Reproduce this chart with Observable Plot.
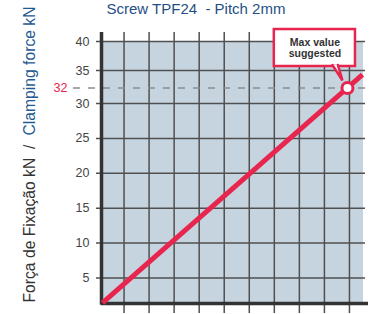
<!DOCTYPE html>
<html>
<head>
<meta charset="utf-8">
<script src="https://cdn.jsdelivr.net/npm/d3@7"></script>
<script src="https://cdn.jsdelivr.net/npm/@observablehq/plot@0.6"></script>
<style>
  html, body { margin: 0; padding: 0; background: #ffffff; }
  #chart { width: 374px; height: 314px; }
</style>
</head>
<body>
<div id="chart"></div>
<script>
// ---- data ----
const title = "Screw TPF24  - Pitch 2mm";
const yLabelPt = "Força de Fixação kN\u00a0\u00a0/";
const yLabelEn = "Clamping force kN";
const xTicks = [1, 2, 3, 4, 5, 6, 7, 8, 9, 10];
const yTicks = [5, 10, 15, 20, 25, 30, 35, 40];
const maxValue = [32];
const maxLabel = "Max value\nsuggested";
const lineX = [0.14, 10.52];
const lineY = [1.45, 34.3];
const markerX = [9.92];
const markerY = [32];

// ---- styling ----
const RED = "#e8254e";
const GRID = "#505050";
const AXIS = "#333333";
const PANEL = "#c6d4df";

const xMin = 0.1, xMax = 10.76, panelRight = 10.56, gridRight = 10.64, tickLeft = -0.1;
const yMin = 1.35, yTop = 41.55, yBelow = -0.08;

const lineData = lineX.map((x, i) => ({x, y: lineY[i]}));
const markerData = markerX.map((x, i) => ({x, y: markerY[i]}));

// annotation callout (data units)
const box = {x1: 7.0, x2: 10.24, y1: 35.7, y2: 42.06};
const tail = [
  {x: 9.32, y: 35.95},
  {x: 9.72, y: 33.3},
  {x: 9.54, y: 35.95}
];

const plot = Plot.plot({
  width: 374,
  height: 314,
  marginLeft: 101,
  marginRight: 6,
  marginTop: 32,
  marginBottom: 11,
  style: {fontFamily: "'Liberation Sans', Arial, sans-serif", fontSize: "12px", background: "#ffffff", overflow: "visible"},
  x: {domain: [xMin, xMax], range: [101, 368], axis: null},
  y: {type: "linear", domain: [yMin, 30, 32, 40], range: [303, 103, 87.5, 41]},
  marks: [
    // panel
    Plot.rect([0], {x1: xMin, x2: panelRight, y1: yMin, y2: 40, fill: PANEL}),
    // vertical grid + bottom ticks
    Plot.ruleX(xTicks, {y1: yBelow, y2: yTop, stroke: GRID, strokeWidth: 1.5}),
    // horizontal grid + left ticks
    Plot.ruleY(yTicks, {x1: tickLeft, x2: gridRight, stroke: GRID, strokeWidth: 1.5}),
    // dashed max line
    Plot.ruleY(maxValue, {x1: -1.02, x2: xMax, stroke: "#8c8c8c", strokeWidth: 1.3, strokeDasharray: "7,8"}),
    // axis lines
    Plot.ruleX([xMin], {y1: yMin - 0.25, y2: yTop, stroke: AXIS, strokeWidth: 3.5}),
    Plot.ruleY([yMin], {x1: xMin, x2: xMax, stroke: AXIS, strokeWidth: 3.5}),
    // tick labels
    Plot.axisY({ticks: yTicks, tickSize: 0, tickPadding: 12, fontSize: 12.5, color: "#444", label: null}),
    Plot.axisY({ticks: maxValue, tickSize: 0, tickPadding: 34, fontSize: 12.5, color: RED, label: null}),
    // force line
    Plot.line(lineData, {x: "x", y: "y", stroke: RED, strokeWidth: 5, strokeLinecap: "butt"}),
    // callout
    Plot.rect([0], {x1: box.x1, x2: box.x2, y1: box.y1, y2: box.y2, fill: "white", stroke: RED, strokeWidth: 2.5}),
    Plot.line(tail, {x: "x", y: "y", fill: "white", stroke: RED, strokeWidth: 2.5, strokeLinejoin: "miter"}),
    Plot.text([maxLabel], {x: (box.x1 + box.x2) / 2, y: 38.9, text: d => d, fontFamily: "'Liberation Sans Narrow', 'Arial Narrow', 'Liberation Sans', sans-serif", fontWeight: "bold", fontSize: 10.5, lineHeight: 1.1, fill: "#333", textAnchor: "middle", lineAnchor: "middle"}),
    // marker
    Plot.dot(markerData, {x: "x", y: "y", r: 5.5, fill: "white", stroke: RED, strokeWidth: 3}),
    // title
    Plot.text([title], {frameAnchor: "top-left", text: d => d, dx: 5, dy: -18.3, textAnchor: "start", lineAnchor: "bottom", fontSize: 15, fill: "#1f4f86"}),
    // y label (two colours)
    Plot.text([yLabelPt], {frameAnchor: "bottom-left", text: d => d, dx: -67, dy: -1, rotate: -90, textAnchor: "start", lineAnchor: "bottom", fontSize: 15.7, fill: "#333"}),
    Plot.text([yLabelEn], {frameAnchor: "top-left", text: d => d, dx: -67, dy: -26, rotate: -90, textAnchor: "end", lineAnchor: "bottom", fontSize: 15.7, fill: "#1f5a92"})
  ]
});

document.getElementById("chart").appendChild(plot);
</script>
</body>
</html>
